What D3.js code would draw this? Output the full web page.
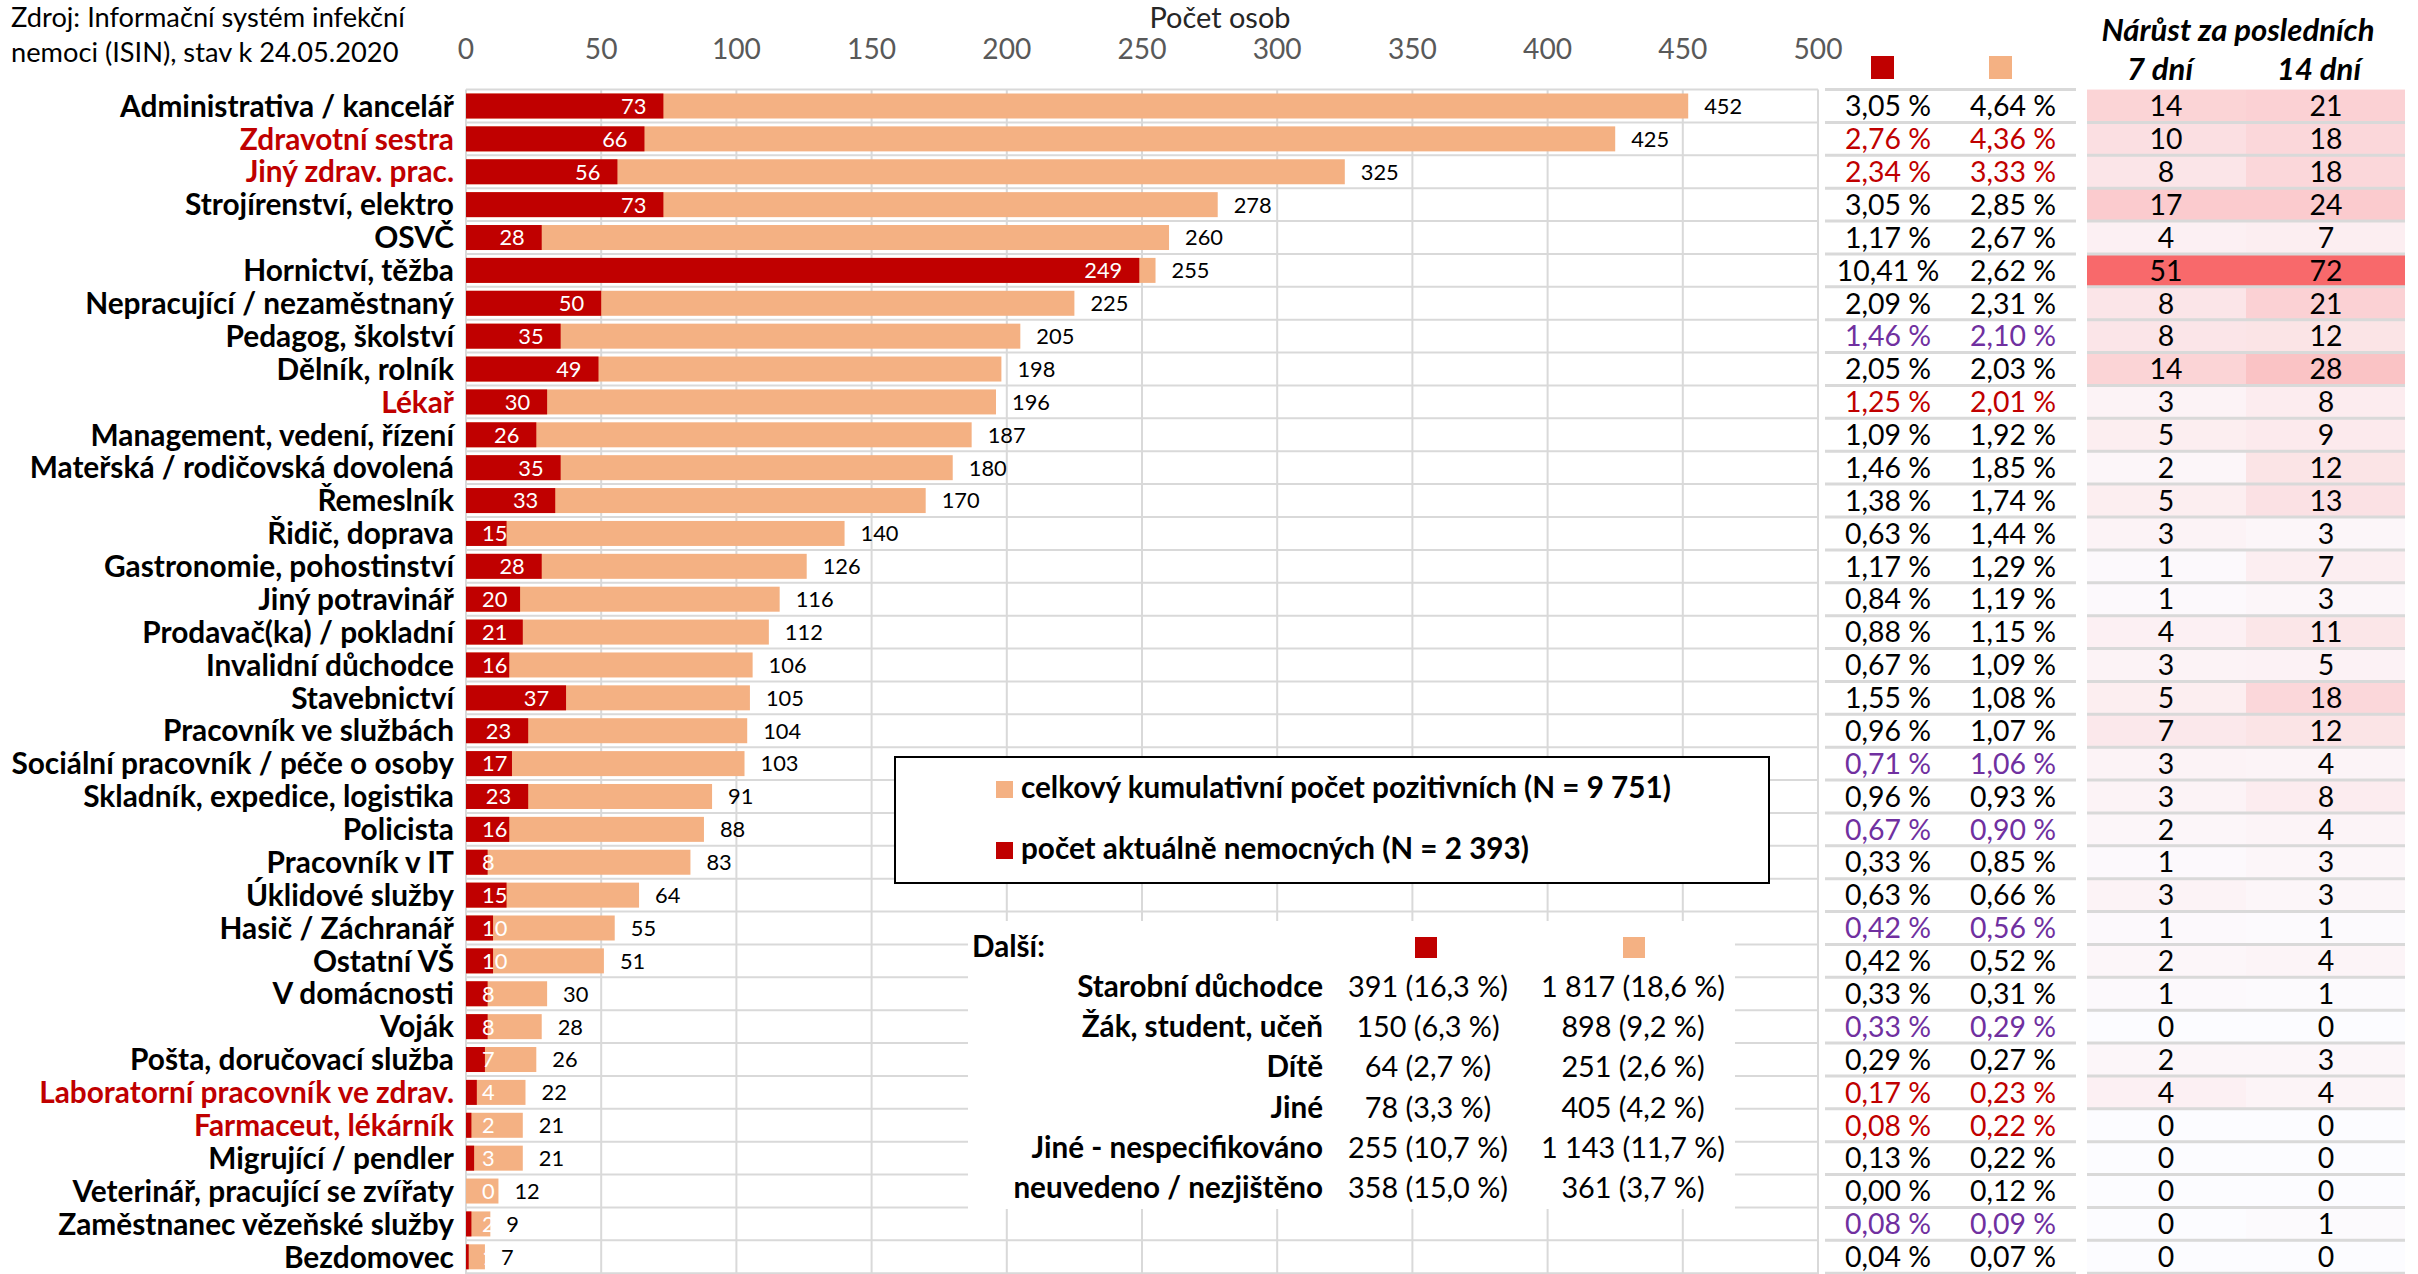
<!DOCTYPE html>
<html>
<head>
<meta charset="utf-8">
<script src="https://cdn.jsdelivr.net/npm/d3@7"></script>
<style>
  body { margin: 0; background: #fff; }
  svg { display: block; }
</style>
</head>
<body>
<div id="chart"></div>
<script>
// ---- data ----
const categories = [
  "Administrativa / kancelář", "Zdravotní sestra", "Jiný zdrav. prac.",
  "Strojírenství, elektro", "OSVČ", "Hornictví, těžba",
  "Nepracující / nezaměstnaný", "Pedagog, školství", "Dělník, rolník", "Lékař",
  "Management, vedení, řízení", "Mateřská / rodičovská dovolená", "Řemeslník",
  "Řidič, doprava", "Gastronomie, pohostinství", "Jiný potravinář",
  "Prodavač(ka) / pokladní", "Invalidní důchodce", "Stavebnictví",
  "Pracovník ve službách", "Sociální pracovník / péče o osoby",
  "Skladník, expedice, logistika", "Policista", "Pracovník v IT",
  "Úklidové služby", "Hasič / Záchranář", "Ostatní VŠ", "V domácnosti", "Voják",
  "Pošta, doručovací služba", "Laboratorní pracovník ve zdrav.",
  "Farmaceut, lékárník", "Migrující / pendler", "Veterinář, pracující se zvířaty",
  "Zaměstnanec vězeňské služby", "Bezdomovec"
];
const currentSick = [73, 66, 56, 73, 28, 249, 50, 35, 49, 30, 26, 35, 33, 15, 28, 20,
  21, 16, 37, 23, 17, 23, 16, 8, 15, 10, 10, 8, 8, 7, 4, 2, 3, 0, 2, 1];
const totalPositive = [452, 425, 325, 278, 260, 255, 225, 205, 198, 196, 187, 180, 170,
  140, 126, 116, 112, 106, 105, 104, 103, 91, 88, 83, 64, 55, 51, 30, 28, 26, 22, 21,
  21, 12, 9, 7];
const pctCurrent = [3.05, 2.76, 2.34, 3.05, 1.17, 10.41, 2.09, 1.46, 2.05, 1.25, 1.09,
  1.46, 1.38, 0.63, 1.17, 0.84, 0.88, 0.67, 1.55, 0.96, 0.71, 0.96, 0.67, 0.33, 0.63,
  0.42, 0.42, 0.33, 0.33, 0.29, 0.17, 0.08, 0.13, 0.00, 0.08, 0.04];
const pctTotal = [4.64, 4.36, 3.33, 2.85, 2.67, 2.62, 2.31, 2.10, 2.03, 2.01, 1.92,
  1.85, 1.74, 1.44, 1.29, 1.19, 1.15, 1.09, 1.08, 1.07, 1.06, 0.93, 0.90, 0.85, 0.66,
  0.56, 0.52, 0.31, 0.29, 0.27, 0.23, 0.22, 0.22, 0.12, 0.09, 0.07];
const growth7 = [14, 10, 8, 17, 4, 51, 8, 8, 14, 3, 5, 2, 5, 3, 1, 1, 4, 3, 5, 7, 3, 3,
  2, 1, 3, 1, 2, 1, 0, 2, 4, 0, 0, 0, 0, 0];
const growth14 = [21, 18, 18, 24, 7, 72, 21, 12, 28, 8, 9, 12, 13, 3, 7, 3, 11, 5, 18,
  12, 4, 8, 4, 3, 3, 1, 4, 1, 0, 3, 4, 0, 0, 0, 1, 0];
const xTicks = [0, 50, 100, 150, 200, 250, 300, 350, 400, 450, 500];

// groups highlighted in the table
const healthJobs = ["Zdravotní sestra", "Jiný zdrav. prac.", "Lékař",
  "Laboratorní pracovník ve zdrav.", "Farmaceut, lékárník"];
const otherMarked = ["Pedagog, školství", "Sociální pracovník / péče o osoby",
  "Policista", "Hasič / Záchranář", "Voják", "Zaměstnanec vězeňské služby"];

// "Další" table
const otherLabels = ["Starobní důchodce", "Žák, student, učeň", "Dítě", "Jiné",
  "Jiné - nespecifikováno", "neuvedeno / nezjištěno"];
const otherCurrent = ["391 (16,3 %)", "150 (6,3 %)", "64 (2,7 %)", "78 (3,3 %)",
  "255 (10,7 %)", "358 (15,0 %)"];
const otherTotal = ["1 817 (18,6 %)", "898 (9,2 %)", "251 (2,6 %)", "405 (4,2 %)",
  "1 143 (11,7 %)", "361 (3,7 %)"];

const legendTotal = "celkový kumulativní počet pozitivních (N = 9 751)";
const legendCurrent = "počet aktuálně nemocných (N = 2 393)";

// ---- drawing ----
const W = 2418, H = 1274;
const FONT = "Lato, 'Open Sans', sans-serif";
const RED = "#c00000", ORANGE = "#f4b183", PURPLE = "#7030a0", GRID = "#d9d9d9";

const svg = d3.select("#chart").append("svg")
  .attr("width", W).attr("height", H)
  .style("font-family", FONT);

// font size so that a sample string gets the width it has in the picture
function fitSize(str, target, weight, style) {
  const t = svg.append("text")
    .attr("font-size", 100)
    .attr("font-weight", weight || "normal")
    .attr("font-style", style || "normal")
    .text(str);
  const w = t.node().getComputedTextLength();
  t.remove();
  return 100 * target / w;
}

const fsSource = fitSize("Zdroj: Informační systém infekční", 394);
const fsTitle = fitSize("Počet osob", 141);
const fsTick = fitSize("250", 49);
const fsCat = fitSize("Administrativa / kancelář", 334, "bold");
const fsVal = fitSize("140", 38);
const fsPct = fitSize("3,05 %", 86);
const fsHeat = fsPct;
const fsHead = fitSize("Nárůst za posledních", 273, "bold", "italic");
const fsLeg = fitSize(legendTotal, 650, "bold");
const fsOther = fitSize("Starobní důchodce", 246, "bold");
const fsOtherVal = fitSize("391 (16,3 %)", 160);

const step = 32.88, top0 = 106 - step / 2;
const x = d3.scaleLinear().domain([0, 500]).range([466, 1818]);
const y = d3.scaleBand().domain(categories).range([top0, top0 + step * categories.length]);
const bw = y.bandwidth();
const barH = 25;
const mid = (c) => y(c) + bw / 2;

const rows = categories.map((c, i) => ({
  cat: c, cur: currentSick[i], tot: totalPositive[i],
  pc: pctCurrent[i], pt: pctTotal[i], g7: growth7[i], g14: growth14[i]
}));
const fmtPct = (v) => d3.format(".2f")(v).replace(".", ",") + " %";
const textColor = (c) => healthJobs.includes(c) ? RED : otherMarked.includes(c) ? PURPLE : "#000";

// header texts
svg.append("text").attr("x", 11).attr("y", 27).attr("font-size", fsSource)
  .text("Zdroj: Informační systém infekční");
svg.append("text").attr("x", 11).attr("y", 62).attr("font-size", fsSource)
  .text("nemoci (ISIN), stav k 24.05.2020");
svg.append("text").attr("x", 1220).attr("y", 28).attr("font-size", fsTitle)
  .attr("text-anchor", "middle").attr("fill", "#262626").text("Počet osob");

// gridlines
const grid = svg.append("g").attr("stroke", GRID).attr("stroke-width", 2);
grid.selectAll(".gv").data(xTicks).join("line")
  .attr("x1", (d) => x(d)).attr("x2", (d) => x(d))
  .attr("y1", y.range()[0]).attr("y2", H);
const bounds = d3.range(categories.length + 1).map((i) => y.range()[0] + i * y.step());
grid.selectAll(".gh").data(bounds).join("line")
  .attr("x1", x(0)).attr("x2", x(500))
  .attr("y1", (d) => d).attr("y2", (d) => d);

// tick labels
svg.append("g").selectAll("text").data(xTicks).join("text")
  .attr("x", (d) => x(d)).attr("y", 59)
  .attr("text-anchor", "middle").attr("font-size", fsTick).attr("fill", "#595959")
  .text((d) => d);

// category labels
svg.append("g").selectAll("text").data(rows).join("text")
  .attr("x", 454).attr("y", (d) => mid(d.cat) + fsCat * 0.36)
  .attr("text-anchor", "end").attr("font-size", fsCat).attr("font-weight", "bold")
  .attr("fill", (d) => healthJobs.includes(d.cat) ? RED : "#000")
  .text((d) => d.cat);

// bars
svg.append("g").selectAll("rect").data(rows).join("rect")
  .attr("x", x(0)).attr("y", (d) => mid(d.cat) - barH / 2)
  .attr("width", (d) => x(d.tot) - x(0)).attr("height", barH)
  .attr("fill", ORANGE);
svg.append("g").selectAll("rect").data(rows).join("rect")
  .attr("x", x(0)).attr("y", (d) => mid(d.cat) - barH / 2)
  .attr("width", (d) => x(d.cur) - x(0)).attr("height", barH)
  .attr("fill", RED);

// total labels
svg.append("g").selectAll("text").data(rows).join("text")
  .attr("x", (d) => x(d.tot) + 16).attr("y", (d) => mid(d.cat) + fsVal * 0.36)
  .attr("font-size", fsVal).text((d) => d.tot);

// current labels, inside end of the red bar
svg.append("g").selectAll("text").data(rows).join("text")
  .attr("y", (d) => mid(d.cat) + fsVal * 0.36)
  .attr("text-anchor", "end").attr("font-size", fsVal).attr("fill", "#fff")
  .text((d) => d.cur)
  .each(function (d) {
    const w = this.getComputedTextLength();
    d3.select(this).attr("x", Math.max(x(0) + 16 + w, x(d.cur) - 17));
  });

// legend box
svg.append("rect").attr("x", 895).attr("y", 757).attr("width", 874).attr("height", 126)
  .attr("fill", "#fff").attr("stroke", "#000").attr("stroke-width", 2);
svg.append("rect").attr("x", 996).attr("y", 781).attr("width", 17).attr("height", 17).attr("fill", ORANGE);
svg.append("rect").attr("x", 996).attr("y", 842).attr("width", 17).attr("height", 17).attr("fill", RED);
svg.append("text").attr("x", 1021).attr("y", 798).attr("font-size", fsLeg)
  .attr("font-weight", "bold").text(legendTotal);
svg.append("text").attr("x", 1021).attr("y", 859).attr("font-size", fsLeg)
  .attr("font-weight", "bold").text(legendCurrent);

// "Další" table
svg.append("rect").attr("x", 968).attr("y", 921).attr("width", 767).attr("height", 288).attr("fill", "#fff");
svg.append("text").attr("x", 972).attr("y", 957).attr("font-size", fsOther)
  .attr("font-weight", "bold").text("Další:");
svg.append("rect").attr("x", 1415).attr("y", 937).attr("width", 22).attr("height", 21).attr("fill", RED);
svg.append("rect").attr("x", 1623).attr("y", 937).attr("width", 22).attr("height", 21).attr("fill", ORANGE);
const oy = d3.scaleLinear().domain([0, 5]).range([997, 1198]);
const other = svg.append("g");
other.selectAll(".ol").data(otherLabels).join("text")
  .attr("x", 1323).attr("y", (d, i) => oy(i)).attr("text-anchor", "end")
  .attr("font-size", fsOther).attr("font-weight", "bold").text((d) => d);
other.selectAll(".oc").data(otherCurrent).join("text")
  .attr("x", 1428).attr("y", (d, i) => oy(i)).attr("text-anchor", "middle")
  .attr("font-size", fsOtherVal).text((d) => d);
other.selectAll(".ot").data(otherTotal).join("text")
  .attr("x", 1633).attr("y", (d, i) => oy(i)).attr("text-anchor", "middle")
  .attr("font-size", fsOtherVal).text((d) => d);

// percentage table
svg.append("rect").attr("x", 1871).attr("y", 56).attr("width", 23).attr("height", 23).attr("fill", RED);
svg.append("rect").attr("x", 1989).attr("y", 56).attr("width", 23).attr("height", 23).attr("fill", ORANGE);
const pct = svg.append("g");
pct.selectAll(".pc").data(rows).join("text")
  .attr("x", 1888).attr("y", (d) => mid(d.cat) + fsPct * 0.36)
  .attr("text-anchor", "middle").attr("font-size", fsPct)
  .attr("fill", (d) => textColor(d.cat)).text((d) => fmtPct(d.pc));
pct.selectAll(".pt").data(rows).join("text")
  .attr("x", 2013).attr("y", (d) => mid(d.cat) + fsPct * 0.36)
  .attr("text-anchor", "middle").attr("font-size", fsPct)
  .attr("fill", (d) => textColor(d.cat)).text((d) => fmtPct(d.pt));

// growth heatmap
const c7 = d3.scaleLinear().domain([0, d3.max(growth7)]).range(["#fcfcff", "#f8696b"]);
const c14 = d3.scaleLinear().domain([0, d3.max(growth14)]).range(["#fcfcff", "#f8696b"]);
const heat = svg.append("g");
heat.selectAll(".h7").data(rows).join("rect")
  .attr("x", 2087).attr("y", (d) => y(d.cat)).attr("width", 159).attr("height", bw)
  .attr("fill", (d) => c7(d.g7));
heat.selectAll(".h14").data(rows).join("rect")
  .attr("x", 2246).attr("y", (d) => y(d.cat)).attr("width", 159).attr("height", bw)
  .attr("fill", (d) => c14(d.g14));

const sep = svg.append("g").attr("stroke", GRID).attr("stroke-width", 3);
sep.selectAll(".sp").data(bounds).join("line")
  .attr("x1", 1825).attr("x2", 2076).attr("y1", (d) => d).attr("y2", (d) => d);
sep.selectAll(".sh").data(bounds.slice(1)).join("line")
  .attr("x1", 2087).attr("x2", 2405).attr("y1", (d) => d).attr("y2", (d) => d);

heat.selectAll(".t7").data(rows).join("text")
  .attr("x", 2166).attr("y", (d) => mid(d.cat) + fsHeat * 0.36)
  .attr("text-anchor", "middle").attr("font-size", fsHeat).text((d) => d.g7);
heat.selectAll(".t14").data(rows).join("text")
  .attr("x", 2326).attr("y", (d) => mid(d.cat) + fsHeat * 0.36)
  .attr("text-anchor", "middle").attr("font-size", fsHeat).text((d) => d.g14);

svg.append("text").attr("x", 2238).attr("y", 41).attr("text-anchor", "middle")
  .attr("font-size", fsHead).attr("font-weight", "bold").attr("font-style", "italic")
  .text("Nárůst za posledních");
svg.append("text").attr("x", 2160).attr("y", 80).attr("text-anchor", "middle")
  .attr("font-size", fsHead).attr("font-weight", "bold").attr("font-style", "italic")
  .text("7 dní");
svg.append("text").attr("x", 2319).attr("y", 80).attr("text-anchor", "middle")
  .attr("font-size", fsHead).attr("font-weight", "bold").attr("font-style", "italic")
  .text("14 dní");
</script>
</body>
</html>
